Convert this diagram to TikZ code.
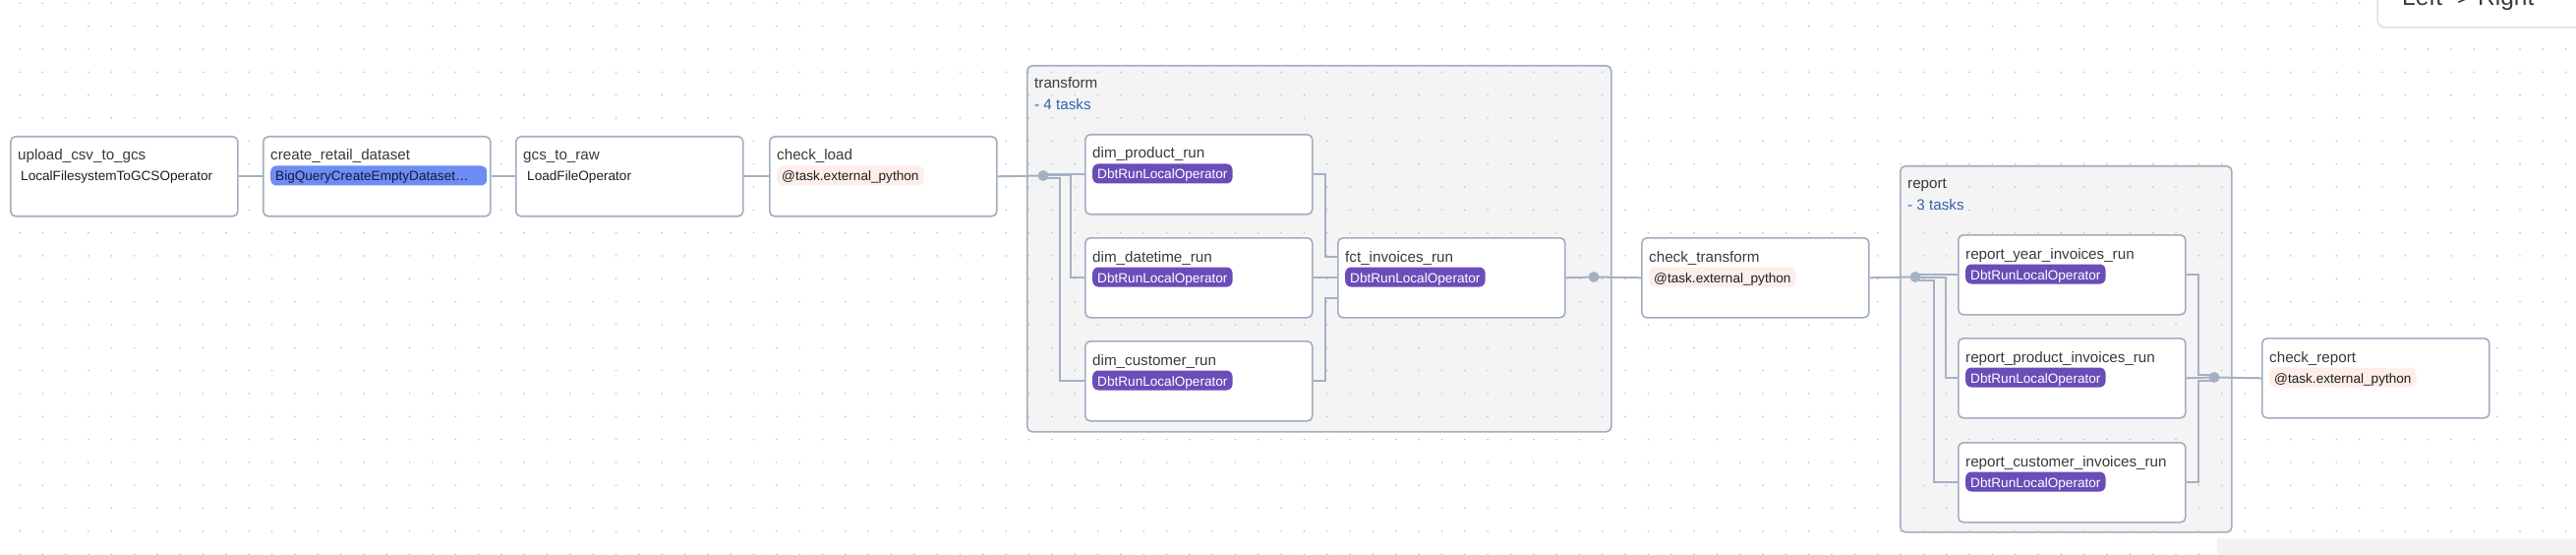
\documentclass[tikz,border=0pt]{standalone}
\usepackage{fontspec}
\setmainfont{Liberation Sans}
\definecolor{airBorder}{HTML}{A0AEC0}
\definecolor{edgeGray}{HTML}{A5B1C3}
\definecolor{groupFill}{HTML}{F4F4F5}
\definecolor{gridDot}{HTML}{C2C2C2}
\definecolor{titleGray}{HTML}{3B3B3B}
\definecolor{opDark}{HTML}{1F1F1F}
\definecolor{taskBlue}{HTML}{2F64A8}
\definecolor{dbtPurple}{HTML}{6A4DB8}
\definecolor{bqBlue}{HTML}{6D8DF4}
\definecolor{bqText}{HTML}{18183A}
\definecolor{pyPink}{HTML}{FDEEEA}
\definecolor{btnBorder}{HTML}{DCDFE5}
\definecolor{panelGray}{HTML}{F2F2F3}
\usetikzlibrary{calc}

\begin{document}
\begin{tikzpicture}[x=1pt, y=-1pt]
    \tikzset{
        task/.style={draw=airBorder, line width=1.6pt, fill=white, rounded corners=5pt,
            minimum width=231pt, minimum height=81pt, anchor=north west, inner sep=0pt},
        tgroup/.style={draw=airBorder, line width=1.6pt, fill=groupFill, rounded corners=5pt,
            anchor=north west, inner sep=0pt},
        tasktitle/.style={font=\fontsize{15.2}{18}\selectfont, text=titleGray, anchor=base west, inner sep=0pt},
        groupcount/.style={tasktitle, text=taskBlue},
        opbadge/.style={font=\fontsize{13.6}{16}\selectfont, anchor=base west, rounded corners=6pt,
            inner xsep=5pt, inner ysep=2.5pt, text height=13pt, text depth=2pt},
        dbtop/.style={opbadge, fill=dbtPurple, text=white},
        pyop/.style={opbadge, fill=pyPink, text=opDark},
        bqop/.style={opbadge, fill=bqBlue, text=bqText, text width=210pt, align=left},
        plainop/.style={opbadge, text=opDark},
        edge/.style={draw=edgeGray, line width=2pt},
        junction/.style={circle, fill=edgeGray, inner sep=0pt, minimum size=11pt},
    }
    \useasboundingbox (0,0) rectangle (2620,564);
    \clip (0,0) rectangle (2620,564);
    \fill[white] (0,0) rectangle (2620,564);

    % Task groups
    \node[tgroup, minimum width=594pt, minimum height=372pt] (transform) at (1044,66) {};
    \node[tgroup, minimum width=337pt, minimum height=372pt] (report) at (1932,168) {};

    % Dotted background
    \foreach \gx in {0,...,112}
        \foreach \gy in {0,...,24}
            \fill[gridDot] (-3.33+\gx*23.33, 3.3+\gy*23.33) circle (0.9);

    \node[tasktitle] (transformname) at ([shift={(8,24)}]transform.north west) {transform};
    \node[groupcount] (transformcount) at ([shift={(8,46)}]transform.north west) {- 4 tasks};
    \node[tasktitle] (reportname) at ([shift={(8,24)}]report.north west) {report};
    \node[groupcount] (reportcount) at ([shift={(8,46)}]report.north west) {- 3 tasks};

    % Task boxes
    \node[task] (upload) at (10,138) {};
    \node[task] (create) at (267,138) {};
    \node[task] (gcs) at (524,138) {};
    \node[task] (checkload) at (782,138) {};
    \node[task] (dimprod) at (1103,136) {};
    \node[task] (dimdt) at (1103,241) {};
    \node[task] (dimcust) at (1103,346) {};
    \node[task] (fct) at (1360,241) {};
    \node[task] (checktr) at (1669,241) {};
    \node[task] (ryear) at (1991,238) {};
    \node[task] (rprod) at (1991,343) {};
    \node[task] (rcust) at (1991,449) {};
    \node[task] (checkrep) at (2300,343) {};

    % Titles and operators
    \node[tasktitle] (uploadname) at ([shift={(8,25)}]upload.north west) {upload\_csv\_to\_gcs};
    \node[plainop] (uploadop) at ([shift={(6,46)}]upload.north west) {LocalFilesystemToGCSOperator};
    \node[tasktitle] (createname) at ([shift={(8,25)}]create.north west) {create\_retail\_dataset};
    \node[bqop] (createop) at ([shift={(8,46)}]create.north west) {BigQueryCreateEmptyDataset…};
    \node[tasktitle] (gcsname) at ([shift={(8,25)}]gcs.north west) {gcs\_to\_raw};
    \node[plainop] (gcsop) at ([shift={(7,46)}]gcs.north west) {LoadFileOperator};
    \node[tasktitle] (checkloadname) at ([shift={(8,25)}]checkload.north west) {check\_load};
    \node[pyop] (checkloadop) at ([shift={(8,46)}]checkload.north west) {@task.external\_python};

    \node[tasktitle] (dimprodname) at ([shift={(8,25)}]dimprod.north west) {dim\_product\_run};
    \node[dbtop] (dimprodop) at ([shift={(8,46)}]dimprod.north west) {DbtRunLocalOperator};
    \node[tasktitle] (dimdtname) at ([shift={(8,25)}]dimdt.north west) {dim\_datetime\_run};
    \node[dbtop] (dimdtop) at ([shift={(8,46)}]dimdt.north west) {DbtRunLocalOperator};
    \node[tasktitle] (dimcustname) at ([shift={(8,25)}]dimcust.north west) {dim\_customer\_run};
    \node[dbtop] (dimcustop) at ([shift={(8,46)}]dimcust.north west) {DbtRunLocalOperator};
    \node[tasktitle] (fctname) at ([shift={(8,25)}]fct.north west) {fct\_invoices\_run};
    \node[dbtop] (fctop) at ([shift={(8,46)}]fct.north west) {DbtRunLocalOperator};
    \node[tasktitle] (checktrname) at ([shift={(8,25)}]checktr.north west) {check\_transform};
    \node[pyop] (checktrop) at ([shift={(8,46)}]checktr.north west) {@task.external\_python};

    \node[tasktitle] (ryearname) at ([shift={(8,25)}]ryear.north west) {report\_year\_invoices\_run};
    \node[dbtop] (ryearop) at ([shift={(8,46)}]ryear.north west) {DbtRunLocalOperator};
    \node[tasktitle] (rprodname) at ([shift={(8,25)}]rprod.north west) {report\_product\_invoices\_run};
    \node[dbtop] (rprodop) at ([shift={(8,46)}]rprod.north west) {DbtRunLocalOperator};
    \node[tasktitle] (rcustname) at ([shift={(8,25)}]rcust.north west) {report\_customer\_invoices\_run};
    \node[dbtop] (rcustop) at ([shift={(8,46)}]rcust.north west) {DbtRunLocalOperator};
    \node[tasktitle] (checkrepname) at ([shift={(8,25)}]checkrep.north west) {check\_report};
    \node[pyop] (checkrepop) at ([shift={(8,46)}]checkrep.north west) {@task.external\_python};

    % Connectors
    \coordinate (j1) at (1061,178.5);
    \coordinate (j2) at (1621,281.5);
    \coordinate (j3) at (1948,281.5);
    \coordinate (j4) at (2252,383.5);
    \draw[edge] (upload.east) -- (create.west);
    \draw[edge] (create.east) -- (gcs.west);
    \draw[edge] (gcs.east) -- (checkload.west);
    \draw[edge] (checkload.east) -- (j1);
    \draw[edge] (j1) |- (dimprod.west);
    \draw[edge] (j1) -| ($(dimdt.west)+(-14,0)$) -- (dimdt.west);
    \draw[edge] ($(j1)+(0,3)$) -| ($(dimcust.west)+(-25,0)$) -- (dimcust.west);
    \draw[edge] (dimprod.east) -- ++(12,0) |- ($(fct.west)+(0,-21)$);
    \draw[edge] (dimdt.east) -- (fct.west);
    \draw[edge] (dimcust.east) -- ++(12,0) |- ($(fct.west)+(0,21)$);
    \draw[edge] (fct.east) -- (j2) -- (checktr.west);
    \draw[edge] (checktr.east) -- (j3);
    \draw[edge] (j3) |- (ryear.west);
    \draw[edge] (j3) -| ($(rprod.west)+(-12,0)$) -- (rprod.west);
    \draw[edge] ($(j3)+(0,3)$) -| ($(rcust.west)+(-24,0)$) -- (rcust.west);
    \draw[edge] (ryear.east) -- ++(12,0) |- ($(j4)+(0,-3)$);
    \draw[edge] (rprod.east) -- (j4);
    \draw[edge] (rcust.east) -- ++(12,0) |- ($(j4)+(0,3)$);
    \draw[edge] (j4) -- (checkrep.west);
    \node[junction] (j1dot) at (j1) {};
    \node[junction] (j2dot) at (j2) {};
    \node[junction] (j3dot) at (j3) {};
    \node[junction] (j4dot) at (j4) {};

    % Layout switch (cut at the top) and panel corner
    \draw[btnBorder, line width=1.5pt, fill=white, rounded corners=8pt] (2418,-30) rectangle (2680,28);
    \node[font=\fontsize{24.5}{28}\selectfont, text=titleGray, anchor=base west, inner sep=0pt]
        (direction) at (2443,6) {Left -> Right};
    \fill[panelGray] (2255,547) rectangle (2620,564);
\end{tikzpicture}
\end{document}
